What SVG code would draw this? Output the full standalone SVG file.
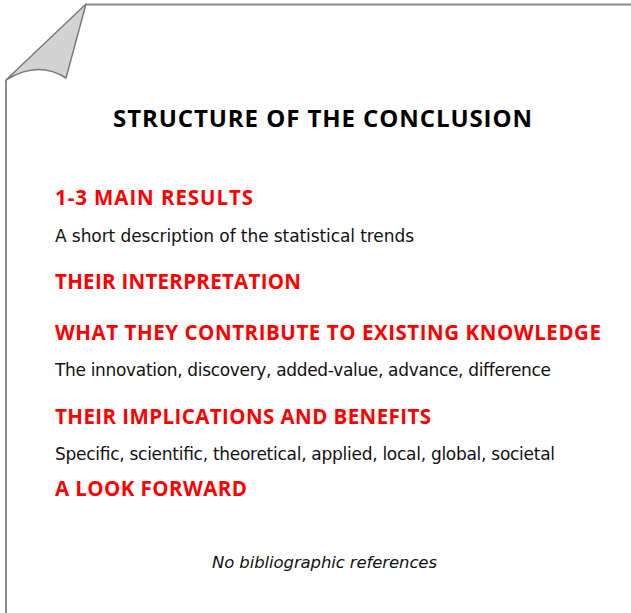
<svg xmlns="http://www.w3.org/2000/svg" width="631" height="613" viewBox="0 0 631 613">
<style>
.page{fill:none;stroke:#8a8a8a;stroke-width:2}
.curl{fill:#d3d3d3;stroke:#7a7a7a;stroke-width:1.5;stroke-linejoin:round}
.title{font-family:"Open Sans","DejaVu Sans",sans-serif;font-weight:700;font-size:24px;fill:#000}
.head{font-family:"Open Sans","DejaVu Sans",sans-serif;font-weight:700;font-size:20.5px;fill:#ff0000}
.body{font-family:"DejaVu Sans","Liberation Sans",sans-serif;font-size:17px;fill:#111}
.note{font-family:"DejaVu Sans","Liberation Sans",sans-serif;font-style:italic;font-size:16.5px;fill:#111}
</style>
<rect width="631" height="613" fill="#fff"/>
<g id="page">
<path class="page" d="M86,4.5 H631 M6,80 V613"/>
<path class="curl" d="M86,4 L6,80 Q38,60 66,78 Z"/>
</g>
<g id="title"><text class="title" x="113" y="127" textLength="419" lengthAdjust="spacing">STRUCTURE OF THE CONCLUSION</text></g>
<g id="results">
<text class="head" x="55" y="205" textLength="198" lengthAdjust="spacing">1-3 MAIN RESULTS</text>
<text class="body" x="55" y="242" textLength="359" lengthAdjust="spacing">A short description of the statistical trends</text>
</g>
<g id="interpretation">
<text class="head" x="55" y="289" textLength="246" lengthAdjust="spacing">THEIR INTERPRETATION</text>
</g>
<g id="contribution">
<text class="head" x="55" y="340" textLength="546" lengthAdjust="spacing">WHAT THEY CONTRIBUTE TO EXISTING KNOWLEDGE</text>
<text class="body" x="55" y="376" textLength="496" lengthAdjust="spacing">The innovation, discovery, added-value, advance, difference</text>
</g>
<g id="implications">
<text class="head" x="55" y="424" textLength="376" lengthAdjust="spacing">THEIR IMPLICATIONS AND BENEFITS</text>
<text class="body" x="55" y="460" textLength="500" lengthAdjust="spacing">Specific, scientific, theoretical, applied, local, global, societal</text>
</g>
<g id="forward">
<text class="head" x="55" y="496" textLength="192" lengthAdjust="spacing">A LOOK FORWARD</text>
</g>
<g id="note">
<text class="note" x="212" y="568" textLength="225" lengthAdjust="spacing">No bibliographic references</text>
</g>
</svg>
